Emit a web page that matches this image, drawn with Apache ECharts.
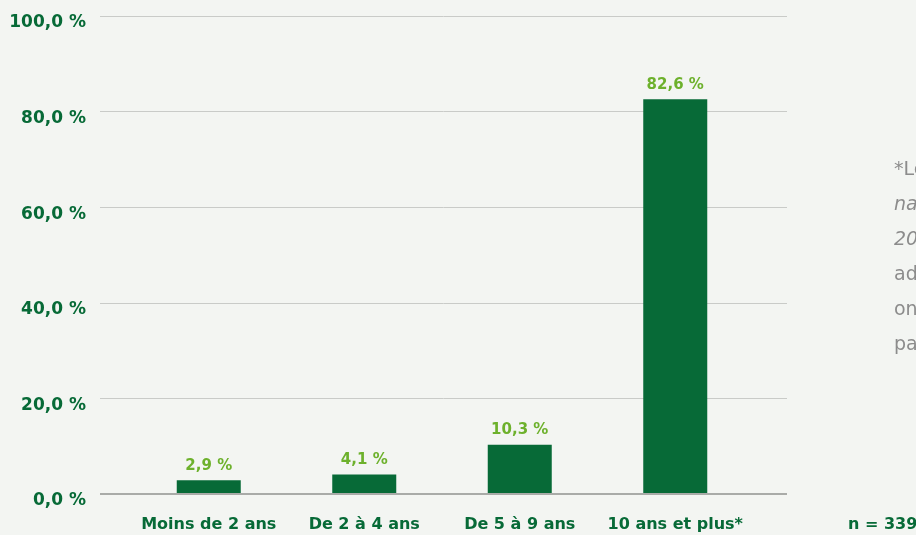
<!DOCTYPE html>
<html>
<head>
<meta charset="utf-8">
<script src="https://cdn.jsdelivr.net/npm/echarts@6/dist/echarts.min.js"></script>
<style>
  html, body { margin: 0; padding: 0; background: #f3f5f2; }
  #chart { width: 916px; height: 535px; }
</style>
</head>
<body>
<div id="chart"></div>
<script>
// Ancienneté des répondants
const categories = ['Moins de 2 ans', 'De 2 à 4 ans', 'De 5 à 9 ans', '10 ans et plus*'];
const values = [2.9, 4.1, 10.3, 82.6];
const yTicks = [0, 20, 40, 60, 80, 100];
const sampleNote = 'n = 339';
const footnoteLines = ['*Les', 'nationales', '2017', 'administratives', 'ont', 'par'];
const footnoteItalic = [false, true, true, false, false, false];

const FONT = '"DejaVu Sans", sans-serif';
const DARK = '#076a37';
const LIGHT = '#6db12c';

const fmt = v => v.toFixed(1).replace('.', ',') + ' %';

const chart = echarts.init(document.getElementById('chart'));

const graphics = [{
  type: 'text', left: 848, top: 517,
  style: { text: sampleNote, font: 'bold 16px ' + FONT, fill: DARK }
}];
footnoteLines.forEach((t, i) => {
  graphics.push({
    type: 'text', left: 894, top: 161 + i * 35,
    style: {
      text: t,
      font: (footnoteItalic[i] ? 'italic ' : '') + '19px ' + FONT,
      fill: '#8c8c8c'
    }
  });
});

chart.setOption({
  backgroundColor: '#f3f5f2',
  animation: false,
  grid: [
    { left: 100, right: 129, top: 16, bottom: 41 },
    { left: 131, right: 163, top: 16, bottom: 41 }
  ],
  xAxis: [
    {
      gridIndex: 0, type: 'value', min: 0, max: 1,
      axisLine: { show: false }, axisTick: { show: false },
      axisLabel: { show: false }, splitLine: { show: false }
    },
    {
      gridIndex: 1, type: 'category', data: categories,
      axisLine: { show: false }, axisTick: { show: false },
      axisLabel: {
        margin: 23, fontFamily: FONT, fontWeight: 'bold',
        fontSize: 16, color: DARK, interval: 0
      }
    }
  ],
  yAxis: [
    {
      gridIndex: 0, type: 'value', min: 0, max: 100, interval: 20,
      axisLine: { show: false }, axisTick: { show: false },
      axisLabel: {
        margin: 14,
        formatter: v => yTicks.includes(v) ? '{t|' + fmt(v) + '}' : '',
        rich: {
          t: {
            fontFamily: FONT, fontWeight: 'bold', fontSize: 17,
            color: DARK, padding: [14, 0, 0, 0]
          }
        }
      },
      splitLine: { lineStyle: { color: '#c9cbc8', width: 1 } }
    },
    {
      gridIndex: 1, type: 'value', min: 0, max: 100,
      show: false
    }
  ],
  series: [
    {
      type: 'line', xAxisIndex: 0, yAxisIndex: 0,
      data: [[0, 0], [1, 0]], symbol: 'none', silent: true,
      lineStyle: { color: '#a9aba8', width: 2 }, z: 5
    },
    {
      type: 'bar', xAxisIndex: 1, yAxisIndex: 1,
      data: values, barWidth: 64,
      itemStyle: { color: DARK },
      label: {
        show: true, position: 'top', distance: 7,
        fontFamily: FONT, fontWeight: 'bold', fontSize: 15,
        color: LIGHT, formatter: p => fmt(p.value)
      },
      z: 3
    }
  ],
  graphic: graphics
});
</script>
</body>
</html>
